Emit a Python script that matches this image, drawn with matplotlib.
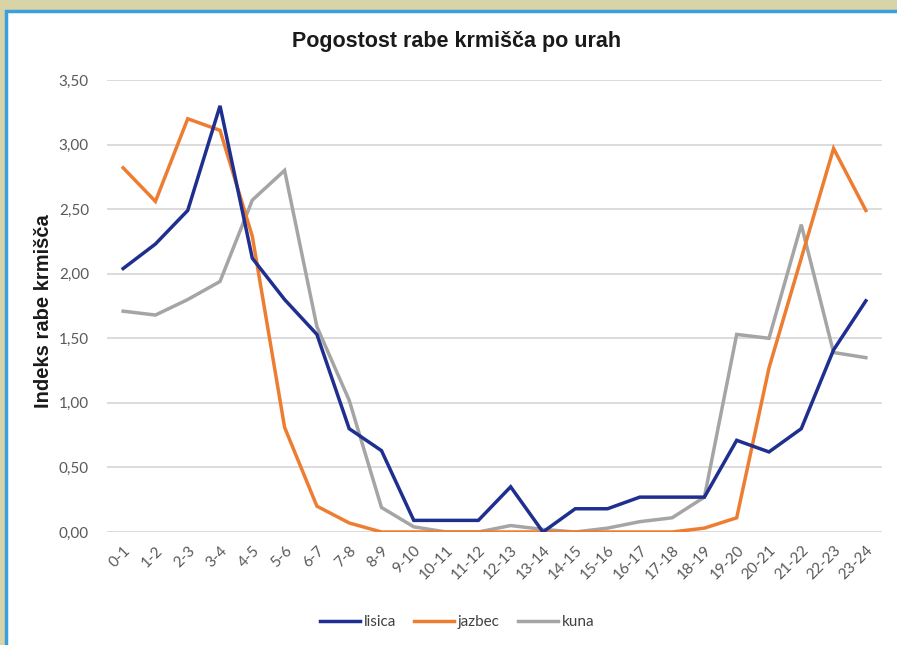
import matplotlib
matplotlib.use("Agg")
import matplotlib.pyplot as plt
from matplotlib.patches import Rectangle
from matplotlib.ticker import FuncFormatter
import numpy as np

hours = ["0-1", "1-2", "2-3", "3-4", "4-5", "5-6", "6-7", "7-8", "8-9", "9-10",
         "10-11", "11-12", "12-13", "13-14", "14-15", "15-16", "16-17", "17-18",
         "18-19", "19-20", "20-21", "21-22", "22-23", "23-24"]
lisica = [2.04, 2.23, 2.49, 3.30, 2.12, 1.80, 1.53, 0.80, 0.63, 0.09, 0.09, 0.09,
          0.35, 0.00, 0.18, 0.18, 0.27, 0.27, 0.27, 0.71, 0.62, 0.80, 1.41, 1.79]
jazbec = [2.82, 2.56, 3.20, 3.11, 2.29, 0.81, 0.20, 0.07, 0.00, 0.00, 0.00, 0.00,
          0.00, 0.00, 0.00, 0.00, 0.00, 0.00, 0.03, 0.11, 1.27, 2.12, 2.97, 2.49]
kuna = [1.71, 1.68, 1.80, 1.94, 2.57, 2.80, 1.59, 1.02, 0.19, 0.04, 0.00, 0.00,
        0.05, 0.02, 0.00, 0.03, 0.08, 0.11, 0.27, 1.53, 1.50, 2.38, 1.39, 1.35]
series_names = ["lisica", "jazbec", "kuna"]
colors = ["#1F2F8F", "#ED7D31", "#A5A5A5"]

W, H = 897, 645
fig = plt.figure(figsize=(W / 100, H / 100), dpi=100)
fig.patch.set_facecolor("#D8D4A8")
# white panel with blue frame
fig.patches.append(Rectangle((6 / W, -0.1), 1.2, (H - 11) / H + 0.1,
                             transform=fig.transFigure, facecolor="white",
                             edgecolor="#3AA0DC", linewidth=2.5, zorder=-5))

ax = fig.add_axes([107 / W, (H - 532) / H, 775 / W, 452 / H])
ax.set_zorder(2)
ax.set_facecolor("none")
x = np.arange(len(hours))

lines = []
for vals, c, z in zip([lisica, jazbec, kuna], colors, [3, 2, 1]):
    ln, = ax.plot(x, vals, color=c, lw=2.5, solid_joinstyle="miter", zorder=z)
    lines.append(ln)

ax.set_xlim(-0.5, len(hours) - 0.5)
ax.set_ylim(0, 3.5)
ax.set_yticks(np.arange(0, 3.51, 0.5))
ax.yaxis.set_major_formatter(FuncFormatter(lambda v, p: f"{v:.2f}".replace(".", ",")))
ax.grid(axis="y", color="#D9D9D9", lw=1.3)
ax.set_axisbelow(True)
for s in ax.spines.values():
    s.set_visible(False)
ax.tick_params(axis="both", length=0, colors="#595959", labelsize=11)
ax.tick_params(axis="y", pad=13)
ax.set_xticks(x)
ax.set_xticklabels(hours, rotation=45, ha="right", va="top", rotation_mode="anchor")
ax.tick_params(axis="x", pad=8)
for lab in ax.get_xticklabels() + ax.get_yticklabels():
    lab.set_fontfamily("Lato")

fig.text(44 / W, 1 - 311 / H, "Indeks rabe krmišča", rotation=90,
         ha="center", va="center", fontsize=14.5, fontweight="bold",
         family="Liberation Sans", color="#1a1a1a")
fig.text(457 / W, 1 - 42 / H, "Pogostost rabe krmišča po urah", ha="center",
         va="center", fontsize=15.5, fontweight="bold", family="Liberation Sans",
         color="#1a1a1a")

leg = fig.legend(lines, series_names, loc="center", ncol=3, frameon=False,
                 bbox_to_anchor=(457 / W, 1 - 622 / H), handlelength=2.6,
                 columnspacing=1.2, handletextpad=0.25,
                 prop={"family": "Lato", "size": 11})
for t in leg.get_texts():
    t.set_color("#404040")

fig.savefig("out.png", dpi=100, facecolor=fig.get_facecolor())
